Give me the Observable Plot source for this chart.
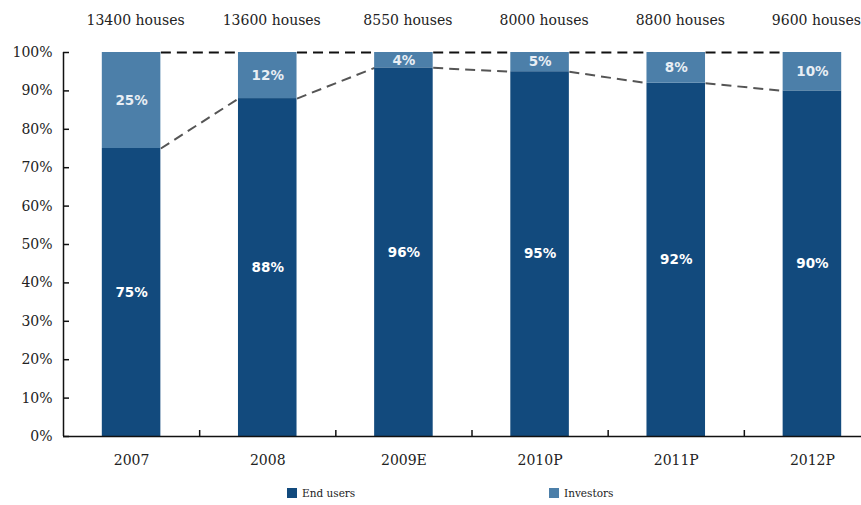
<!DOCTYPE html>
<html>
<head>
<meta charset="utf-8">
<script src="https://cdn.jsdelivr.net/npm/d3@7"></script>
<script src="https://cdn.jsdelivr.net/npm/@observablehq/plot@0.6"></script>
<style>
  body { margin: 0; background: #fff; }
  #chart { position: relative; width: 861px; }
  .legend { position: relative; height: 23px; font-family: "DejaVu Serif", serif; font-size: 10.5px; color: #222; }
  .legend .item { position: absolute; top: 5px; display: flex; align-items: center; }
  .legend .sw { width: 10px; height: 10px; margin-right: 5px; display: inline-block; }
</style>
</head>
<body>
<div id="chart"></div>
<script>
const years = ["2007", "2008", "2009E", "2010P", "2011P", "2012P"];
const endUsers = [75, 88, 96, 95, 92, 90];
const investors = [25, 12, 4, 5, 8, 10];
const houses = [13400, 13600, 8550, 8000, 8800, 9600];
const seriesNames = ["End users", "Investors"];
const seriesColors = ["#124a7d", "#4c7fa9"];
const yTicks = [0, 0.1, 0.2, 0.3, 0.4, 0.5, 0.6, 0.7, 0.8, 0.9, 1.0];

const hw = 0.215; // half bar width, in category units
const rows = years.map((y, i) => ({i, year: y, end: endUsers[i] / 100, inv: investors[i] / 100, houses: houses[i]}));
const pairs = rows.slice(0, -1).map((d, k) => ({a: d, b: rows[k + 1]}));

const serif = "DejaVu Serif";
const chart = Plot.plot({
  width: 861,
  height: 482,
  marginLeft: 63,
  marginTop: 52,
  marginBottom: 46,
  marginRight: 0,
  style: {fontFamily: serif, fontSize: "13px", color: "#222", background: "#fff"},
  x: {domain: [-0.5, 5.5], range: [63, 880], axis: null},
  y: {domain: [0, 1], axis: null},
  marks: [
    // connector lines (drawn under bars)
    Plot.link(pairs, {x1: d => d.a.i + hw, x2: d => d.b.i - hw, y1: () => 1, y2: () => 1,
      stroke: "#111", strokeWidth: 2, strokeDasharray: "10,6"}),
    Plot.link(pairs, {x1: d => d.a.i + hw, x2: d => d.b.i - hw, y1: d => d.a.end, y2: d => d.b.end,
      stroke: "#555", strokeWidth: 2, strokeDasharray: "10,6"}),
    // bars
    Plot.rect(rows, {x1: d => d.i - hw, x2: d => d.i + hw, y1: () => 0, y2: d => d.end, fill: seriesColors[0]}),
    Plot.rect(rows, {x1: d => d.i - hw, x2: d => d.i + hw, y1: d => d.end, y2: d => d.end + d.inv, fill: seriesColors[1]}),
    // value labels
    Plot.text(rows, {x: "i", y: d => d.end / 2, text: d => Math.round(d.end * 100) + "%",
      fill: "#fff", fontWeight: "bold", fontFamily: "DejaVu Sans", fontSize: 13.5}),
    Plot.text(rows, {x: "i", y: d => d.end + d.inv / 2, text: d => Math.round(d.inv * 100) + "%",
      fill: "#e8eef4", fontWeight: "bold", fontFamily: "DejaVu Sans", fontSize: 13.5}),
    // totals on top
    Plot.text(rows, {x: "i", y: () => 1, dy: -32, dx: 4, text: d => d.houses + " houses", fill: "#222", fontSize: 14}),
    // axes
    Plot.ruleX([-0.5], {y1: 0, y2: 1, stroke: "#111", strokeWidth: 1.5}),
    Plot.ruleY([0], {stroke: "#111", strokeWidth: 1.5}),
    Plot.axisY({ticks: yTicks, tickSize: 0, tickPadding: 11, tickFormat: d => Math.round(d * 100) + "%", fontSize: 14, label: null}),
    Plot.axisY({ticks: yTicks, tickSize: -6, tickFormat: () => "", stroke: "#111", strokeWidth: 1.5, label: null}),
    Plot.axisX({ticks: rows.map(d => d.i), tickSize: 0, tickPadding: 19, tickFormat: i => years[i], fontSize: 14, label: null}),
    Plot.axisX({ticks: rows.slice(0, -1).map(d => d.i + 0.5), tickSize: -6, tickFormat: () => "", stroke: "#111", strokeWidth: 1.5, label: null})
  ]
});
document.getElementById("chart").appendChild(chart);

const legend = document.createElement("div");
legend.className = "legend";
const legendLeft = [287, 549];
seriesNames.forEach((name, k) => {
  const item = document.createElement("div");
  item.className = "item";
  item.style.left = legendLeft[k] + "px";
  const sw = document.createElement("span");
  sw.className = "sw";
  sw.style.background = seriesColors[k];
  item.appendChild(sw);
  item.appendChild(document.createTextNode(name));
  legend.appendChild(item);
});
document.getElementById("chart").appendChild(legend);
</script>
</body>
</html>
